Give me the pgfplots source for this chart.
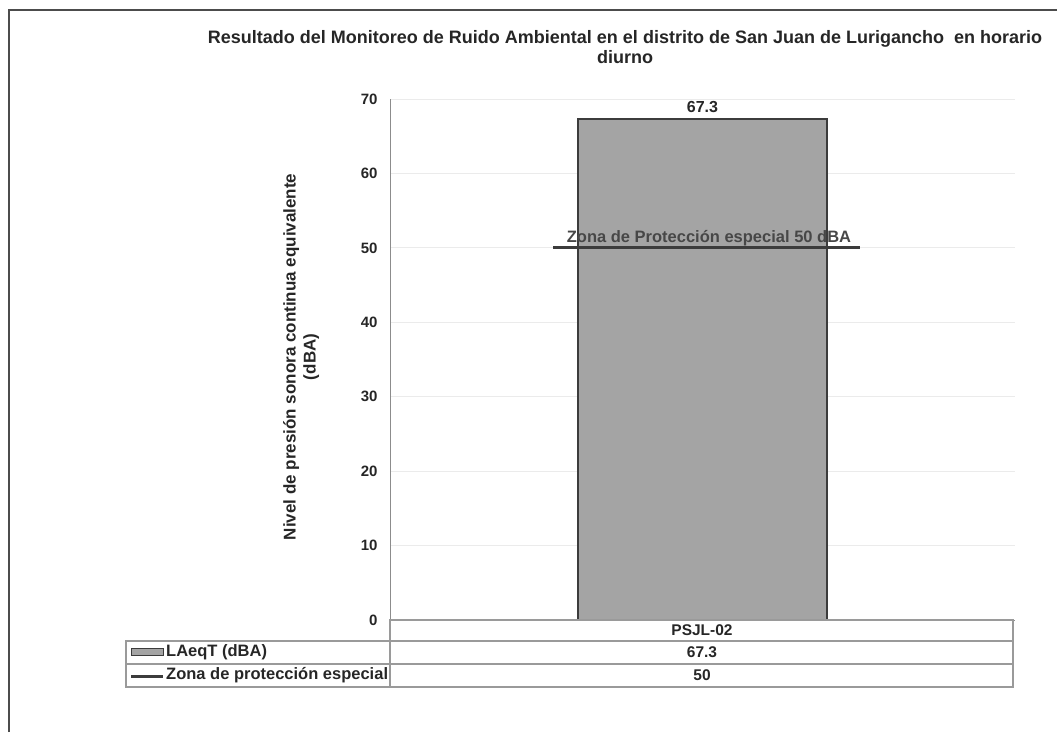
\documentclass[border=0pt]{standalone}
\usepackage{fontspec}
\setmainfont{Liberation Sans}
\usepackage{pgfplots}
\pgfplotsset{compat=1.18}
\definecolor{barfill}{HTML}{A4A4A4}
\definecolor{bardraw}{HTML}{3C3C3C}
\definecolor{txt}{HTML}{262626}
\definecolor{tline}{HTML}{9A9A9A}
\begin{document}
\begin{tikzpicture}[x=1pt,y=1pt]
\useasboundingbox (0,0) rectangle (1057,732);
% frame
\draw[line width=2.2pt, color=black!70] (9,0) -- (9,722) -- (1057,722);
% title
\node[font=\fontsize{18}{20.5}\selectfont\bfseries, text=txt, align=center] at (625,685) {Resultado del Monitoreo de Ruido Ambiental en el distrito de San Juan de Lurigancho\ \ en horario\\diurno};
\begin{axis}[
  at={(390pt,112pt)}, anchor=south west,
  scale only axis, width=625pt, height=521pt,
  xmin=-0.5, xmax=0.5, ymin=0, ymax=70,
  ytick={0,10,...,70}, xtick=\empty,
  axis lines*=left,
  axis line style={draw=black!45, line width=1pt},
  ymajorgrids, grid style={draw=black!8, line width=0.8pt},
  major tick length=0pt,
  /pgf/number format/assume math mode=true,
  yticklabel style={font=\fontsize{15}{17}\selectfont\bfseries, text=txt, xshift=-9pt},
  ylabel={Nivel de presión sonora continua equivalente\\(dBA)},
  ylabel style={font=\fontsize{17}{20}\selectfont\bfseries, text=txt, align=center, at={(axis description cs:-0.142,0.505)}, anchor=center},
  clip=false,
]
\addplot[ybar, bar width=249pt, fill=barfill, draw=bardraw, line width=1.2pt,
  nodes near coords, every node near coord/.append style={font=\fontsize{16}{18}\selectfont\bfseries, text=txt, yshift=2pt}]
  coordinates {(0,67.3)};
\addplot[draw=bardraw, line width=3pt] coordinates {(-0.239,50) (0.252,50)};
\node[anchor=base, font=\fontsize{16.5}{18}\selectfont\bfseries, text=txt!85] at (axis cs:0.0104,50) [yshift=5pt] {Zona de Protección especial 50 dBA};
\end{axis}
% data table
\draw[tline, line width=1.3pt] (390,112) rectangle (1013,91);
\draw[tline, line width=1.3pt] (126,91) rectangle (1013,68);
\draw[tline, line width=1.3pt] (126,68) rectangle (1013,45);
\draw[tline, line width=1.3pt] (390,112) -- (390,45);
\node[font=\fontsize{15.5}{17}\selectfont\bfseries, text=txt] at (702,102) {PSJL-02};
\node[font=\fontsize{15.5}{17}\selectfont\bfseries, text=txt] at (702,79.5) {67.3};
\node[font=\fontsize{15.5}{17}\selectfont\bfseries, text=txt] at (702,56.5) {50};
\draw[fill=barfill, draw=bardraw, line width=1pt] (131,84) rectangle (163,77);
\draw[bardraw, line width=3pt] (131,56) -- (163,56);
\node[anchor=west, inner sep=1pt, font=\fontsize{16.5}{18}\selectfont\bfseries, text=txt] at (165,80) {LAeqT (dBA)};
\node[anchor=west, inner sep=1pt, font=\fontsize{16.5}{18}\selectfont\bfseries, text=txt] at (165,56.5) {Zona de protección especial};
\end{tikzpicture}
\end{document}
